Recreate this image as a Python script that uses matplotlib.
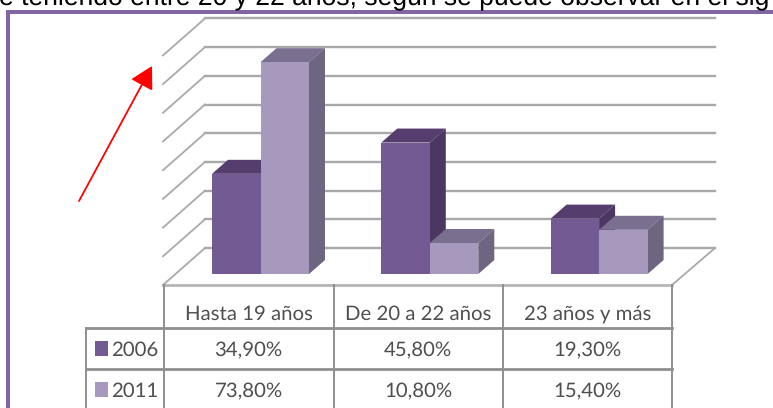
#!/usr/bin/env python3
"""Grafico 3D de barras por grupo de edad, con tabla de datos debajo."""

import matplotlib
matplotlib.use("Agg")
import matplotlib.pyplot as plt
from matplotlib.patches import FancyArrowPatch, Rectangle
from matplotlib.transforms import Affine2D

W, H = 773, 408

categories = ["Hasta 19 años", "De 20 a 22 años", "23 años y más"]
years = ["2006", "2011"]
values_2006 = [34.9, 45.8, 19.3]
values_2011 = [73.8, 10.8, 15.4]
grid_levels = [0, 10, 20, 30, 40, 50, 60, 70, 80]
caption = "e teniendo entre 20 y 22 años, según se puede observar en el sig"

FRONT = {"2006": "#735a92", "2011": "#a699bd"}
TOP = {"2006": "#553d6e", "2011": "#7b6f90"}
SIDE = {"2006": "#4c3763", "2011": "#6e6580"}
GRID = "#a9a9a9"
TABLE = "#8f8f8f"
TEXT = "#4f4f4f"
FRAME = "#8166a3"
TABLE_FONT = ["Lato", "DejaVu Sans"]

# escala: una categoria = 169.3 px, un punto porcentual = 2.87 px
PX_X, PX_Y = 169.3, 2.87
X0, Y0 = 164, 274

plt.rcParams["text.hinting"] = "none"

fig = plt.figure(figsize=(W / 100, H / 100), dpi=100)
ax = fig.add_axes([0, 0, 1, 1])
ax.set_xlim(-X0 / PX_X, (W - X0) / PX_X)
ax.set_ylim(-(H - Y0) / PX_Y, Y0 / PX_Y)
ax.axis("off")

# coordenadas de pixel para el marco, la tabla y la flecha
px = Affine2D().scale(1 / W, -1 / H).translate(0, 1) + fig.transFigure

bar_w = 48.5 / PX_X
bar_x0 = 48 / PX_X
dx, dy = 16 / PX_X, 14 / PX_Y
wall_x0, wall_x1 = 41 / PX_X, 551 / PX_X
wall_y0 = 26 / PX_Y
front_x0, front_x1 = -1 / PX_X, 508 / PX_X
front_y = -11 / PX_Y

# paredes y piso
for level in grid_levels:
    ax.plot([wall_x0, wall_x1], [wall_y0 + level] * 2, color=GRID, lw=1.7, zorder=1)
    ax.plot([front_x0, wall_x0], [front_y + level, wall_y0 + level], color=GRID, lw=1.3, zorder=1)
ax.plot([front_x1, wall_x1], [front_y, wall_y0], color=GRID, lw=1.3, zorder=1)
ax.plot([front_x0, front_x1], [front_y, front_y], color="#b5b5b5", lw=2, zorder=1)

# barras
for i in range(len(categories)):
    for j, (year, vals) in enumerate(zip(years, [values_2006, values_2011])):
        x = i + bar_x0 + j * bar_w
        v = vals[i]
        z = 3 + j
        ax.fill([x, x + dx, x + bar_w + dx, x + bar_w], [v, v + dy, v + dy, v],
                color=TOP[year], lw=0, zorder=z)
        ax.fill([x + bar_w, x + bar_w + dx, x + bar_w + dx, x + bar_w], [v, v + dy, dy, 0],
                color=SIDE[year], lw=0, zorder=z)
        ax.bar(x, v, width=bar_w, align="edge", color=FRONT[year], lw=0, zorder=z + 0.5)

# tabla de datos
table_lines = [
    ([164, 164], [285, 408], 1.4),
    ([334, 334], [285, 408], 1.4),
    ([503, 503], [285, 408], 1.4),
    ([672, 672], [285, 408], 1.4),
    ([86, 86], [328, 408], 1.4),
    ([86, 672], [328, 328], 2),
    ([86, 672], [369, 369], 2),
]
for xs, ys, lw in table_lines:
    ax.plot(xs, ys, color=TABLE, lw=lw, transform=px, zorder=2, clip_on=False)

for i, name in enumerate(categories):
    cx = X0 + (i + 0.5) * PX_X
    ax.text(cx, 320, name, transform=px, ha="center", va="baseline", fontsize=14.7,
            color=TEXT, family=TABLE_FONT)
    for row_y, vals in zip([356, 397], [values_2006, values_2011]):
        label = f"{vals[i]:.2f}".replace(".", ",") + "%"
        ax.text(cx, row_y, label, transform=px, ha="center", va="baseline", fontsize=14.7,
                color=TEXT, family=TABLE_FONT)

for year, row_y in zip(years, [356, 397]):
    ax.add_patch(Rectangle((95, row_y - 15), 13, 15, transform=px, color=FRONT[year], lw=0))
    ax.text(111, row_y, year, transform=px, ha="left", va="baseline", fontsize=14.7,
            color=TEXT, family=TABLE_FONT)

# marco de la diapositiva
ax.add_patch(Rectangle((6, 10), W, 3.5, transform=px, color=FRAME, lw=0, zorder=6))
ax.add_patch(Rectangle((6, 10), 3.5, H, transform=px, color=FRAME, lw=0, zorder=6))

# flecha roja
ax.add_patch(FancyArrowPatch((79, 201), (152, 66), transform=px, color="#ff0000", lw=1.3,
                             arrowstyle="-|>,head_length=4.5,head_width=2.5", shrinkA=0, shrinkB=0,
                             mutation_scale=3, zorder=7))

# texto del documento, cortado por el borde superior
ax.text(-1, 5, caption, transform=px, ha="left", va="baseline", fontsize=19.1,
        color="#000000", family=["Liberation Sans", "DejaVu Sans"], zorder=8)

fig.savefig("out.png", dpi=100)
